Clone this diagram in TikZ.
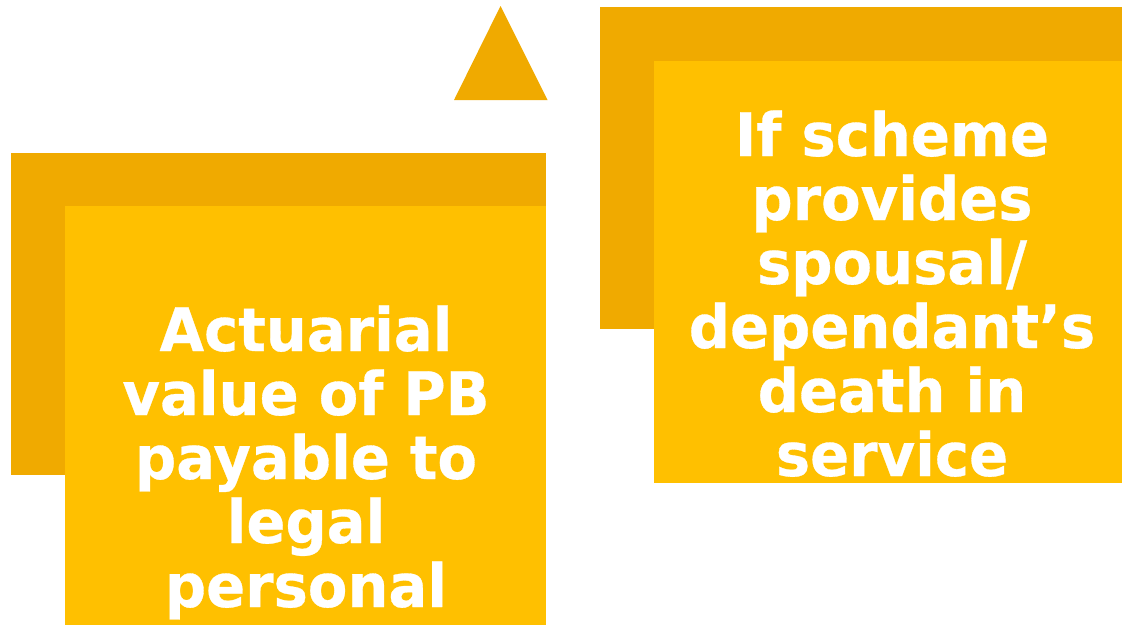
\documentclass[tikz,border=0pt]{standalone}
\usepackage{fontspec}
\setmainfont{DejaVu Sans}[BoldFeatures={FakeStretch=0.96,FakeBold=0.5}]
\definecolor{backgold}{HTML}{F0AA00}
\definecolor{frontgold}{HTML}{FFC000}
\begin{document}
\begin{tikzpicture}[x=1pt,y=-1pt,
  backpanel/.style={fill=backgold,draw=none},
  frontpanel/.style={fill=frontgold,draw=none},
  paneltext/.style={text=white,align=center,inner sep=0pt,anchor=base,
    font=\fontsize{60}{64}\selectfont\bfseries}]
\useasboundingbox (0,0) rectangle (1122,625);
% pointer triangle
\fill[backgold] (454,100) -- (500.5,6) -- (547.5,100) -- cycle;
% left card
\path[backpanel] (11,152.5) rectangle (546,475);
\path[frontpanel] (65,206) rectangle (546,625);
% right card
\path[backpanel] (600,6.5) rectangle (1122,329);
\path[frontpanel] (654,61) rectangle (1122,483);
% card texts (anchored at the baseline of their last line)
\node[paneltext] (lefttext) at (306,607)
  {Actuarial\\value of PB\\payable to\\legal\\personal};
\node[paneltext] (righttext) at (892,476)
  {If scheme\\provides\\spousal/\\dependant’s\\death in\\service};
\end{tikzpicture}
\end{document}
